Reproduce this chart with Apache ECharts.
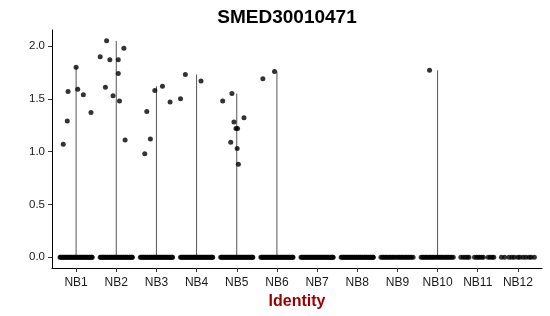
<!DOCTYPE html>
<html>
<head>
<meta charset="utf-8">
<script src="https://cdn.jsdelivr.net/npm/echarts@6/dist/echarts.min.js"></script>
<style>html,body{margin:0;padding:0;background:#fff;}#c{width:550px;height:316px;}</style>
</head>
<body>
<div id="c"></div>
<script>
var title = 'SMED30010471';
var xTitle = 'Identity';
var categories = ['NB1','NB2','NB3','NB4','NB5','NB6','NB7','NB8','NB9','NB10','NB11','NB12'];
var yTicks = [0, 0.5, 1.0, 1.5, 2.0];

// non-zero expression values per group
var values = [
  [1.07, 1.29, 1.57, 1.80, 1.59, 1.54, 1.37],
  [1.90, 2.05, 1.61, 1.87, 1.53, 1.87, 1.74, 1.48, 1.98, 1.11],
  [0.98, 1.38, 1.12, 1.58, 1.62, 1.47],
  [1.50, 1.73, 1.67],
  [1.48, 1.55, 1.32, 1.28, 1.22, 1.22, 1.09, 1.03, 0.88],
  [1.69, 1.76],
  [], [], [],
  [1.77],
  [], []
];
// horizontal jitter of the non-zero points (category units)
var jitter = [
  [-0.32, -0.22, -0.20, 0.00, 0.04, 0.18, 0.37],
  [-0.40, -0.24, -0.27, -0.16, -0.08, 0.05, 0.05, 0.08, 0.19, 0.22],
  [-0.29, -0.24, -0.15, -0.04, 0.15, 0.34],
  [-0.40, -0.28, 0.11],
  [-0.35, -0.12, 0.18, -0.07, -0.02, 0.02, -0.15, 0.01, 0.04],
  [-0.35, -0.06],
  [], [], [],
  [-0.20],
  [], []
];
// jitter of the cells at zero
var zeroDense = [-0.40,-0.38,-0.35,-0.33,-0.31,-0.28,-0.26,-0.23,-0.21,-0.18,-0.16,-0.13,-0.11,-0.08,-0.06,-0.03,-0.01,0.02,0.04,0.07,0.09,0.12,0.14,0.17,0.19,0.22,0.24,0.27,0.29,0.32,0.34,0.37,0.39,0.40];
var zeroMedium = [-0.41,-0.37,-0.34,-0.30,-0.27,-0.23,-0.19,-0.16,-0.12,-0.09,-0.05,-0.01,0.03,0.06,0.10,0.13,0.17,0.21,0.24,0.28,0.31,0.35,0.39];
var zeroNB11 = [-0.42,-0.36,-0.31,-0.26,-0.22,-0.08,-0.03,0.01,0.05,0.10,0.14,0.26,0.31,0.36,0.40];
var zeroNB12 = [-0.41,-0.33,-0.22,-0.15,-0.09,0.00,0.05,0.13,0.20,0.28,0.33,0.41];
var zeroJitter = [zeroDense, zeroDense, zeroDense, zeroDense, zeroDense, zeroDense, zeroDense, zeroDense, zeroMedium, zeroMedium, zeroNB11, zeroNB12];

var series = [];
// violin collapsed to a line from 0 to the max
categories.forEach(function (c, i) {
  if (values[i].length) {
    var mx = Math.max.apply(null, values[i]);
    series.push({
      type: 'line', data: [[i + 1, 0], [i + 1, mx]], symbol: 'none', silent: true,
      lineStyle: { color: '#555', width: 1 }, z: 1, animation: false
    });
  }
});
var zeroPts = [];
categories.forEach(function (c, i) {
  zeroJitter[i].forEach(function (j) { zeroPts.push([i + 1 + j, 0]); });
});
var pts = [];
categories.forEach(function (c, i) {
  values[i].forEach(function (v, k) { pts.push([i + 1 + jitter[i][k], v]); });
});
series.push({ type: 'scatter', data: zeroPts, symbolSize: 5, itemStyle: { color: '#000' }, z: 3, animation: false });
series.push({ type: 'scatter', data: pts, symbolSize: 5, itemStyle: { color: '#000' }, z: 3, animation: false });

var chart = echarts.init(document.getElementById('c'), null, { renderer: 'canvas' });
chart.setOption({
  backgroundColor: '#fff',
  animation: false,
  title: {
    text: title, left: 282, top: 3, textAlign: 'center',
    textStyle: { fontFamily: 'Liberation Sans, Arial, sans-serif', fontWeight: 'bold', fontSize: 19, color: '#000' }
  },
  grid: { left: 52, right: 8, top: 30, bottom: 48, containLabel: false, outerBoundsMode: 'none' },
  xAxis: {
    type: 'value', min: 0.4, max: 12.6,
    name: xTitle, nameLocation: 'middle', nameGap: 26,
    nameTextStyle: { fontFamily: 'Liberation Sans, Arial, sans-serif', fontWeight: 'bold', fontSize: 16, color: '#990000' },
    splitLine: { show: false },
    axisLine: { show: true, onZero: false, lineStyle: { color: '#000', width: 1 } },
    axisTick: { show: true, customValues: categories.map(function (c, i) { return i + 1; }), length: 4, lineStyle: { color: '#333' } },
    axisLabel: {
      customValues: categories.map(function (c, i) { return i + 1; }),
      formatter: function (v) { return categories[Math.round(v) - 1] || ''; },
      fontFamily: 'Liberation Sans, Arial, sans-serif', fontSize: 12, color: '#1a1a1a', margin: 9
    }
  },
  yAxis: {
    type: 'value', min: -0.1025, max: 2.1525,
    splitLine: { show: false },
    axisLine: { show: true, onZero: false, lineStyle: { color: '#000', width: 1 } },
    axisTick: { show: true, customValues: yTicks, length: 4, lineStyle: { color: '#333' } },
    axisLabel: {
      customValues: yTicks,
      formatter: function (v) { return v.toFixed(1); },
      fontFamily: 'Liberation Sans, Arial, sans-serif', fontSize: 11.5, color: '#1a1a1a', margin: 7
    }
  },
  series: series
});
</script>
</body>
</html>
